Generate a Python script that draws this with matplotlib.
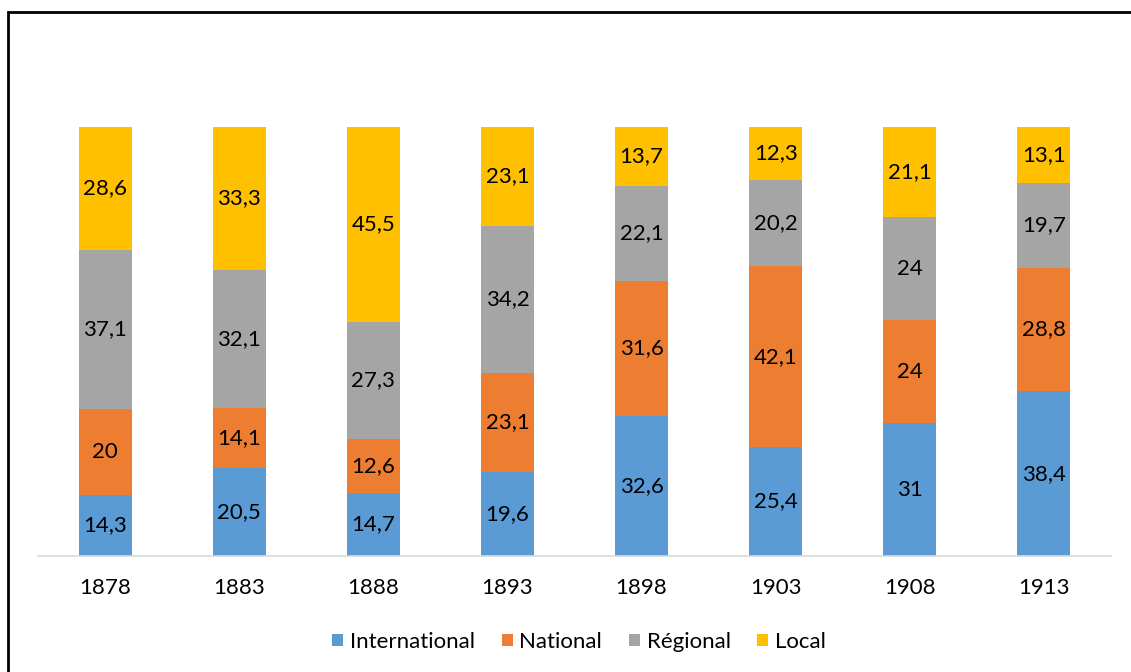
import matplotlib.pyplot as plt
from matplotlib.patches import Rectangle
import numpy as np

plt.rcParams['font.family'] = ['Lato', 'DejaVu Sans']

years = ['1878', '1883', '1888', '1893', '1898', '1903', '1908', '1913']
international = [14.3, 20.5, 14.7, 19.6, 32.6, 25.4, 31, 38.4]
national = [20, 14.1, 12.6, 23.1, 31.6, 42.1, 24, 28.8]
regional = [37.1, 32.1, 27.3, 34.2, 22.1, 20.2, 24, 19.7]
local = [28.6, 33.3, 45.5, 23.1, 13.7, 12.3, 21.1, 13.1]

series = [('International', international, '#5B9BD5'),
          ('National', national, '#ED7D31'),
          ('Régional', regional, '#A5A5A5'),
          ('Local', local, '#FFC000')]

W, H = 1131, 672
fig = plt.figure(figsize=(W / 100, H / 100), dpi=100)
ax = fig.add_axes([38 / W, (H - 556) / H, 1073 / W, 429 / H])

x = np.arange(len(years))
bottom = np.zeros(len(years))
for name, vals, col in series:
    vals = np.array(vals, dtype=float)
    ax.bar(x, vals, 0.395, bottom=bottom, color=col, label=name)
    for xi, b, v in zip(x, bottom, vals):
        txt = ('%g' % v).replace('.', ',')
        ax.text(xi, b + v / 2, txt, ha='center', va='center',
                fontsize=16, color='black')
    bottom += vals

ax.set_xlim(-0.5, len(years) - 0.5)
ax.set_ylim(0, 100)
ax.set_xticks(x)
ax.set_xticklabels(years, fontsize=16)
ax.tick_params(axis='x', length=0, pad=16)
ax.set_yticks([])
for s in ['top', 'left', 'right']:
    ax.spines[s].set_visible(False)
ax.spines['bottom'].set_color('#D9D9D9')
ax.spines['bottom'].set_linewidth(1.2)

fig.legend(loc='center', bbox_to_anchor=(579 / W, 1 - 642 / H), ncol=4,
           frameon=False, fontsize=16, handlelength=0.5, handleheight=0.5,
           handletextpad=0.3, columnspacing=1.2)

# outer chart frame
fig.patches.append(Rectangle((8 / W, -0.1), 1.2, 1.1 - 12 / H,
                             transform=fig.transFigure, fill=False,
                             edgecolor='black', linewidth=2))

fig.savefig('out.png', dpi=100)
